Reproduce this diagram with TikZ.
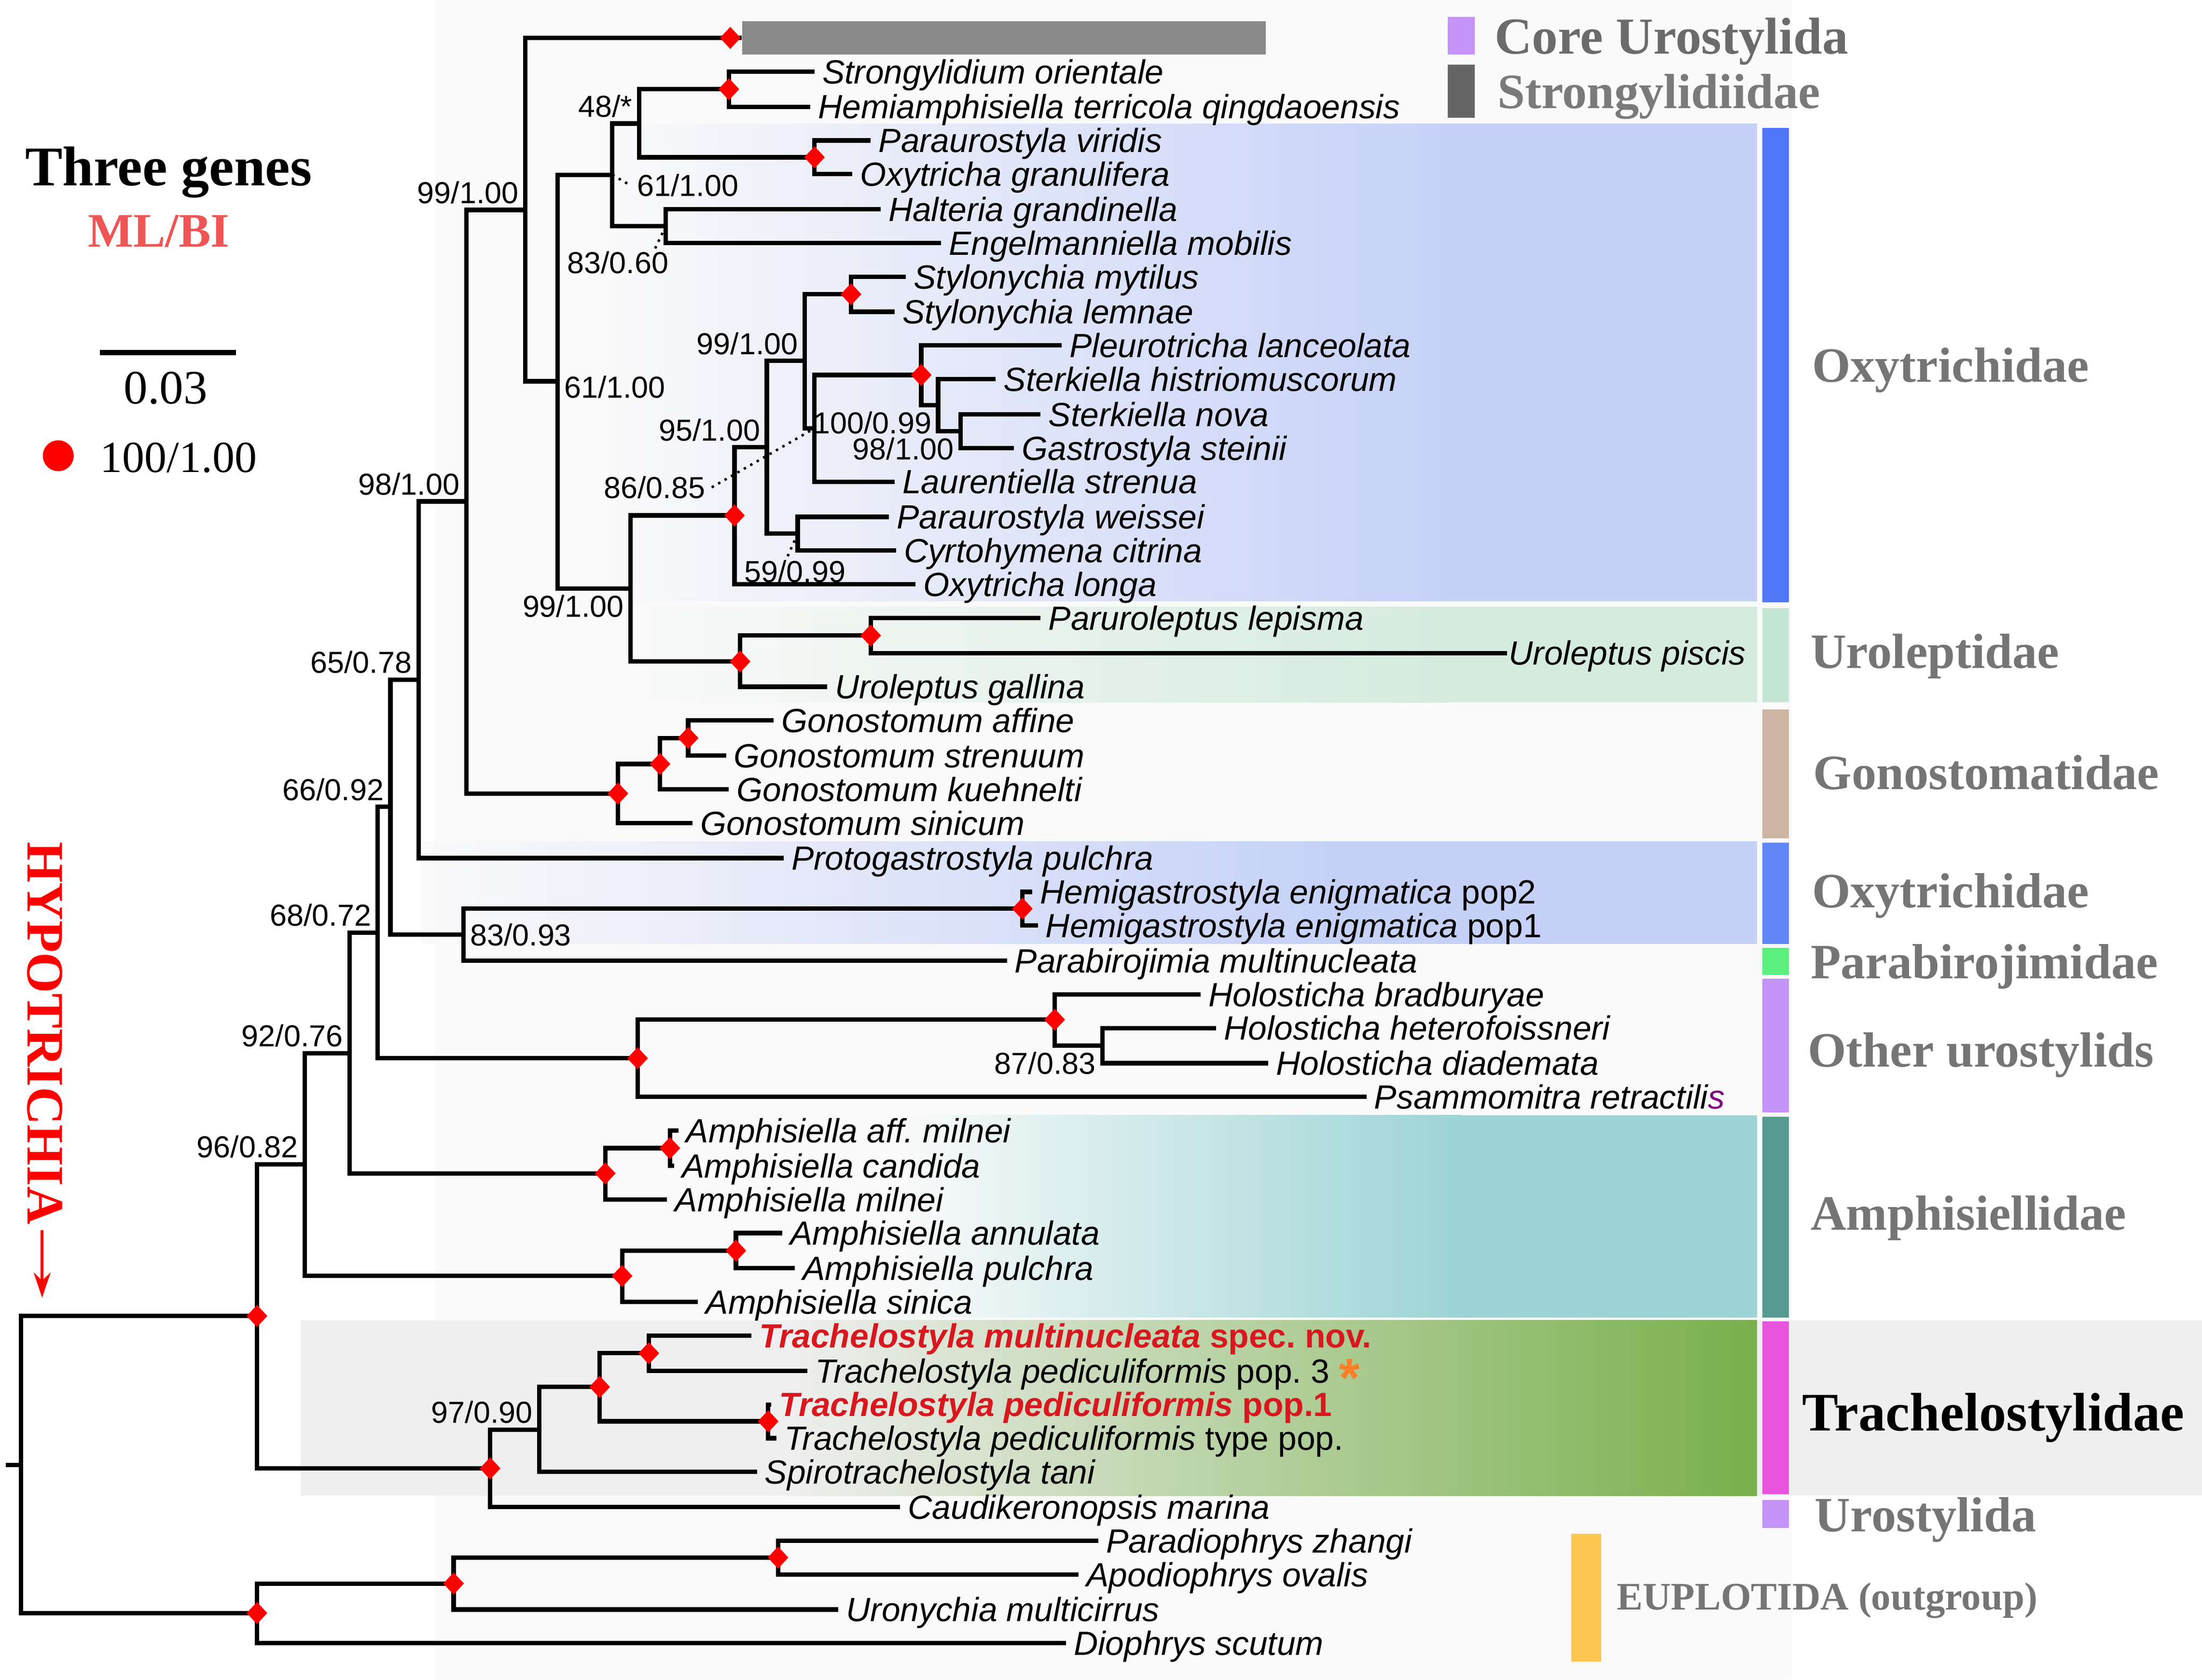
\documentclass[tikz,border=0pt]{standalone}
\usepackage{fontspec}
\setmainfont{Liberation Serif}
\setsansfont{Liberation Sans}
\usetikzlibrary{shapes.geometric,arrows.meta}

\definecolor{bgpanel}{HTML}{FAFAFA}
\definecolor{oxyblue}{HTML}{C6D1F8}
\definecolor{urogreen}{HTML}{D5EBDE}
\definecolor{amphteal}{HTML}{9CD4D5}
\definecolor{trgray}{HTML}{EFEFEF}
\definecolor{trgreen}{HTML}{78B04B}
\definecolor{collgray}{HTML}{8A8A8A}
\definecolor{cladegray}{HTML}{757575}
\definecolor{oxybar}{HTML}{4F77F7}
\definecolor{urobar}{HTML}{C6E6D5}
\definecolor{gonobar}{HTML}{CDB4A3}
\definecolor{oxybarb}{HTML}{6086F8}
\definecolor{parabar}{HTML}{5DF07E}
\definecolor{lavbar}{HTML}{C494F8}
\definecolor{amphbar}{HTML}{569A91}
\definecolor{trachbar}{HTML}{E854DC}
\definecolor{eupbar}{HTML}{FDC64E}
\definecolor{strongsq}{HTML}{656565}
\definecolor{newred}{HTML}{D9171F}
\definecolor{mlred}{HTML}{F05555}
\definecolor{astorange}{HTML}{FF7F27}

\begin{document}
\begin{tikzpicture}[x=0.02cm,y=-0.02cm,
    branch/.style={line width=1.8pt},
    lead/.style={dotted,line width=1pt},
    tax/.style={anchor=west,inner sep=3pt,font=\sffamily\itshape\fontsize{13.6}{15}\selectfont,text height=9.7pt,text depth=0pt},
    supp/.style={inner sep=2.5pt,font=\sffamily\fontsize{12.3}{14}\selectfont,text height=8.8pt,text depth=0pt},
    full/.style={diamond,fill=red,inner sep=0pt,minimum width=0.3cm,minimum height=0.32cm},
    clade/.style={anchor=west,inner sep=0pt,text=cladegray,font=\bfseries\fontsize{20}{22}\selectfont,text height=13.2pt,text depth=0pt},
    newsp/.style={text=newred,font=\sffamily\bfseries\itshape\fontsize{13.6}{15}\selectfont}]
    \useasboundingbox (0,0) rectangle (1568,1196);
    \fill[white] (0,0) rectangle (1568,1196);
    \fill[bgpanel] (310,0) rectangle (1276,1196);

    \shade[left color=bgpanel,right color=oxyblue] (430,88) rectangle (1032,428);
    \fill[oxyblue] (1031,88) rectangle (1251,428);
    \shade[left color=bgpanel,right color=urogreen] (440,432) rectangle (1032,500);
    \fill[urogreen] (1031,432) rectangle (1251,500);
    \shade[left color=bgpanel,right color=oxyblue] (300,599) rectangle (951,672);
    \fill[oxyblue] (950,599) rectangle (1251,672);
    \shade[left color=bgpanel,right color=amphteal] (640,794) rectangle (1041,938);
    \fill[amphteal] (1040,794) rectangle (1251,938);
    \fill[trgray] (214,940) rectangle (1568,1065);
    \shade[left color=trgray,right color=trgreen] (560,940) rectangle (1251,1065);

    \fill[oxybar] (1255,91) rectangle (1274,429);
    \fill[urobar] (1255,433) rectangle (1274,500);
    \fill[gonobar] (1255,505) rectangle (1274,597);
    \fill[oxybarb] (1255,600) rectangle (1274,672);
    \fill[parabar] (1255,675) rectangle (1274,694);
    \fill[lavbar] (1255,697) rectangle (1274,792);
    \fill[amphbar] (1255,795) rectangle (1274,938);
    \fill[trachbar] (1255,941) rectangle (1274,1064);
    \fill[lavbar] (1255,1068) rectangle (1274,1088);
    \fill[eupbar] (1119,1092) rectangle (1140,1183);
    \fill[lavbar] (1031,12) rectangle (1050,39);
    \fill[strongsq] (1031,46) rectangle (1050,84);

    \node[clade,text=black!58,font=\bfseries\fontsize{21}{23}\selectfont,text height=13.9pt] (lcore) at (1064,26) {Core Urostylida};
    \node[clade,text=black!52] (lstrong) at (1066,65.5) {Strongylidiidae};
    \node[clade] (coxyA) at (1290,260.5) {Oxytrichidae};
    \node[clade] (curo) at (1289,464) {Uroleptidae};
    \node[clade] (cgono) at (1291,550.5) {Gonostomatidae};
    \node[clade] (coxyB) at (1290,634.5) {Oxytrichidae};
    \node[clade] (cpara) at (1289,685) {Parabirojimidae};
    \node[clade] (cother) at (1287,748) {Other urostylids};
    \node[clade] (camph) at (1289,864) {Amphisiellidae};
    \node[clade,text=black,font=\bfseries\fontsize{22}{24}\selectfont,text height=14.6pt] (ctrach) at (1283,1006) {Trachelostylidae};
    \node[clade] (curost) at (1292,1079) {Urostylida};
    \node[clade,font=\bfseries\fontsize{15.8}{18}\selectfont,text height=10.5pt] (ceup) at (1151,1137) {EUPLOTIDA (outgroup)};

    \node[inner sep=0pt,font=\bfseries\fontsize{22.7}{25}\selectfont,text height=15pt,text depth=0pt] (title) at (120,119) {Three genes};
    \node[inner sep=0pt,text=mlred,font=\bfseries\fontsize{19.5}{22}\selectfont,text height=12.9pt,text depth=0pt] (mlbi) at (113,164.5) {ML/BI};
    \coordinate (sbl) at (71,251);
    \coordinate (sbr) at (168,251);
    \draw[line width=2pt] (sbl) -- (sbr);
    \node[inner sep=0pt,font=\fontsize{19.4}{22}\selectfont,text height=13.1pt,text depth=0pt] (sblab) at (118,276) {0.03};
    \fill[red] (41.5,324.5) circle (0.22cm);
    \node[anchor=west,inner sep=0pt,font=\fontsize{18}{20}\selectfont,text height=12.2pt,text depth=0pt] (leg) at (71,325.5) {100/1.00};

    \node[rotate=-90,inner sep=0pt,text=red,font=\bfseries\fontsize{21.3}{24}\selectfont,text height=14.1pt,text depth=0pt] (hypo) at (32,735.5) {HYPOTRICHIA};
    \coordinate (hyptip) at (30,924);
    \draw[red,line width=1.1pt,-{Stealth[length=0.36cm,width=0.24cm]}] (hypo.east) ++(-2,4) -- (hyptip);

    % tips
    \node[tax] (strori) at (580,51) {Strongylidium orientale};
    \node[tax] (hemter) at (577,76) {Hemiamphisiella terricola qingdaoensis};
    \node[tax] (parvir) at (620,100) {Paraurostyla viridis};
    \node[tax] (oxygra) at (607,124) {Oxytricha granulifera};
    \node[tax] (halgra) at (627,149) {Halteria grandinella};
    \node[tax] (engmob) at (670,173) {Engelmanniella mobilis};
    \node[tax] (stymyt) at (645,197) {Stylonychia mytilus};
    \node[tax] (stylem) at (637,222) {Stylonychia lemnae};
    \node[tax] (plelan) at (756,246) {Pleurotricha lanceolata};
    \node[tax] (sterhis) at (709,270) {Sterkiella histriomuscorum};
    \node[tax] (sternov) at (741,295) {Sterkiella nova};
    \node[tax] (gasste) at (722,319) {Gastrostyla steinii};
    \node[tax] (laustr) at (637,343) {Laurentiella strenua};
    \node[tax] (parwei) at (633,368) {Paraurostyla weissei};
    \node[tax] (cyrcit) at (638,392) {Cyrtohymena citrina};
    \node[tax] (oxylon) at (652,416) {Oxytricha longa};
    \node[tax] (parlep) at (741,440) {Paruroleptus lepisma};
    \node[tax,inner sep=0.6pt] (uropis) at (1073,465) {Uroleptus piscis};
    \node[tax] (urogal) at (589,489) {Uroleptus gallina};
    \node[tax] (gonaff) at (551,513) {Gonostomum affine};
    \node[tax] (gonstr) at (517,538) {Gonostomum strenuum};
    \node[tax] (gonkue) at (519,562) {Gonostomum kuehnelti};
    \node[tax] (gonsin) at (493,586) {Gonostomum sinicum};
    \node[tax] (propul) at (558,611) {Protogastrostyla pulchra};
    \node[tax] (hempa) at (735,635) {Hemigastrostyla enigmatica \upshape pop2};
    \node[tax] (hempb) at (739,659) {Hemigastrostyla enigmatica \upshape pop1};
    \node[tax] (parmul) at (717,684) {Parabirojimia multinucleata};
    \node[tax] (holbra) at (855,708) {Holosticha bradburyae};
    \node[tax] (holhet) at (866,732) {Holosticha heterofoissneri};
    \node[tax] (holdia) at (903,757) {Holosticha diademata};
    \node[tax] (psaret) at (973,781) {Psammomitra retractili{\color{violet}s}};
    \node[tax] (ampaff) at (483,805) {Amphisiella aff.\ milnei};
    \node[tax] (ampcan) at (480,830) {Amphisiella candida};
    \node[tax] (ampmil) at (475,854) {Amphisiella milnei};
    \node[tax] (ampann) at (557,878) {Amphisiella annulata};
    \node[tax] (amppul) at (566,903) {Amphisiella pulchra};
    \node[tax] (ampsin) at (497,927) {Amphisiella sinica};
    \node[tax,newsp] (tramul) at (535,951) {Trachelostyla multinucleata \upshape spec.\ nov.};
    \node[tax] (trapc) at (575,976) {Trachelostyla pediculiformis \upshape pop.\ 3 \raisebox{-5.5pt}{\color{astorange}\bfseries\fontsize{22}{22}\selectfont *}};
    \node[tax,newsp] (trapa) at (549,1000) {Trachelostyla pediculiformis \upshape pop.1};
    \node[tax] (tratyp) at (553,1024) {Trachelostyla pediculiformis \upshape type pop.};
    \node[tax] (spitan) at (539,1048) {Spirotrachelostyla tani};
    \node[tax] (caumar) at (641,1073) {Caudikeronopsis marina};
    \node[tax] (parzha) at (782,1097) {Paradiophrys zhangi};
    \node[tax] (apoova) at (768,1121) {Apodiophrys ovalis};
    \node[tax] (uromul) at (597,1146) {Uronychia multicirrus};
    \node[tax] (diosct) at (759,1170) {Diophrys scutum};
    \node[fill=collgray,anchor=west,inner sep=0pt,minimum width=7.46cm,minimum height=0.48cm] (corebar) at (528,27) {};

    % inner nodes
    \coordinate (nA) at (520,27);
    \coordinate (nStr) at (519,63.5);
    \coordinate (nPar) at (580,112);
    \coordinate (n48) at (455,88);
    \coordinate (n83) at (474,161);
    \coordinate (n61a) at (436,124.5);
    \coordinate (nSty) at (606,209.5);
    \coordinate (nS98) at (684,307);
    \coordinate (nS100) at (668,288.5);
    \coordinate (nSter) at (656,267);
    \coordinate (n100) at (580,305);
    \coordinate (n99) at (573,257);
    \coordinate (n59) at (568,380);
    \coordinate (n95) at (546,318.5);
    \coordinate (nOxy) at (523,367);
    \coordinate (nUro1) at (620,452.5);
    \coordinate (nUro2) at (527,471);
    \coordinate (n99b) at (449,419);
    \coordinate (n61b) at (397,271.5);
    \coordinate (n99c) at (374,149.5);
    \coordinate (nG1) at (490,525.5);
    \coordinate (nG2) at (470,544);
    \coordinate (nG3) at (440,565);
    \coordinate (n98) at (332,357);
    \coordinate (n65) at (298,484);
    \coordinate (nHem) at (728,647);
    \coordinate (n83b) at (330,665.5);
    \coordinate (n66) at (278,574.5);
    \coordinate (n87) at (785,744.5);
    \coordinate (nHol) at (751,726);
    \coordinate (nHol2) at (454,753.5);
    \coordinate (n68) at (269,664);
    \coordinate (nAm1) at (477,817.5);
    \coordinate (nAm2) at (431,835.5);
    \coordinate (nAm3) at (524,890.5);
    \coordinate (nAm4) at (443,908.5);
    \coordinate (n92) at (249,750);
    \coordinate (n96) at (217,829);
    \coordinate (nT1) at (462,963.5);
    \coordinate (nT2) at (547,1012);
    \coordinate (nT3) at (427,987.5);
    \coordinate (n97) at (384,1018);
    \coordinate (nT4) at (349,1045.5);
    \coordinate (nIn) at (183,937);
    \coordinate (nE1) at (554,1109);
    \coordinate (nE2) at (323,1127.5);
    \coordinate (nE3) at (183,1148.5);
    \coordinate (root) at (15,1043);
    \coordinate (stub) at (4,1043);

    % branches
    \draw[branch] (nA) -- (corebar.west);
    \draw[branch] (nStr) |- (strori.west);
    \draw[branch] (nStr) |- (hemter.west);
    \draw[branch] (nPar) |- (parvir.west);
    \draw[branch] (nPar) |- (oxygra.west);
    \draw[branch] (n48) |- (nStr);
    \draw[branch] (n48) |- (nPar);
    \draw[branch] (n83) |- (halgra.west);
    \draw[branch] (n83) |- (engmob.west);
    \draw[branch] (n61a) |- (n48);
    \draw[branch] (n61a) |- (n83);
    \draw[branch] (nSty) |- (stymyt.west);
    \draw[branch] (nSty) |- (stylem.west);
    \draw[branch] (nS98) |- (sternov.west);
    \draw[branch] (nS98) |- (gasste.west);
    \draw[branch] (nS100) |- (sterhis.west);
    \draw[branch] (nS100) |- (nS98);
    \draw[branch] (nSter) |- (plelan.west);
    \draw[branch] (nSter) |- (nS100);
    \draw[branch] (n100) |- (nSter);
    \draw[branch] (n100) |- (laustr.west);
    \draw[branch] (n99) |- (nSty);
    \draw[branch] (n99) |- (n100);
    \draw[branch] (n59) |- (parwei.west);
    \draw[branch] (n59) |- (cyrcit.west);
    \draw[branch] (n95) |- (n99);
    \draw[branch] (n95) |- (n59);
    \draw[branch] (nOxy) |- (n95);
    \draw[branch] (nOxy) |- (oxylon.west);
    \draw[branch] (nUro1) |- (parlep.west);
    \draw[branch] (nUro1) |- (uropis.west);
    \draw[branch] (nUro2) |- (nUro1);
    \draw[branch] (nUro2) |- (urogal.west);
    \draw[branch] (n99b) |- (nOxy);
    \draw[branch] (n99b) |- (nUro2);
    \draw[branch] (n61b) |- (n61a);
    \draw[branch] (n61b) |- (n99b);
    \draw[branch] (n99c) |- (nA);
    \draw[branch] (n99c) |- (n61b);
    \draw[branch] (nG1) |- (gonaff.west);
    \draw[branch] (nG1) |- (gonstr.west);
    \draw[branch] (nG2) |- (nG1);
    \draw[branch] (nG2) |- (gonkue.west);
    \draw[branch] (nG3) |- (nG2);
    \draw[branch] (nG3) |- (gonsin.west);
    \draw[branch] (n98) |- (n99c);
    \draw[branch] (n98) |- (nG3);
    \draw[branch] (n65) |- (n98);
    \draw[branch] (n65) |- (propul.west);
    \draw[branch] (nHem) |- (hempa.west);
    \draw[branch] (nHem) |- (hempb.west);
    \draw[branch] (n83b) |- (nHem);
    \draw[branch] (n83b) |- (parmul.west);
    \draw[branch] (n66) |- (n65);
    \draw[branch] (n66) |- (n83b);
    \draw[branch] (n87) |- (holhet.west);
    \draw[branch] (n87) |- (holdia.west);
    \draw[branch] (nHol) |- (holbra.west);
    \draw[branch] (nHol) |- (n87);
    \draw[branch] (nHol2) |- (nHol);
    \draw[branch] (nHol2) |- (psaret.west);
    \draw[branch] (n68) |- (n66);
    \draw[branch] (n68) |- (nHol2);
    \draw[branch] (nAm1) |- (ampaff.west);
    \draw[branch] (nAm1) |- (ampcan.west);
    \draw[branch] (nAm2) |- (nAm1);
    \draw[branch] (nAm2) |- (ampmil.west);
    \draw[branch] (nAm3) |- (ampann.west);
    \draw[branch] (nAm3) |- (amppul.west);
    \draw[branch] (nAm4) |- (nAm3);
    \draw[branch] (nAm4) |- (ampsin.west);
    \draw[branch] (n92) |- (n68);
    \draw[branch] (n92) |- (nAm2);
    \draw[branch] (n96) |- (n92);
    \draw[branch] (n96) |- (nAm4);
    \draw[branch] (nT1) |- (tramul.west);
    \draw[branch] (nT1) |- (trapc.west);
    \draw[branch] (nT2) |- (trapa.west);
    \draw[branch] (nT2) |- (tratyp.west);
    \draw[branch] (nT3) |- (nT1);
    \draw[branch] (nT3) |- (nT2);
    \draw[branch] (n97) |- (nT3);
    \draw[branch] (n97) |- (spitan.west);
    \draw[branch] (nT4) |- (n97);
    \draw[branch] (nT4) |- (caumar.west);
    \draw[branch] (nIn) |- (n96);
    \draw[branch] (nIn) |- (nT4);
    \draw[branch] (nE1) |- (parzha.west);
    \draw[branch] (nE1) |- (apoova.west);
    \draw[branch] (nE2) |- (nE1);
    \draw[branch] (nE2) |- (uromul.west);
    \draw[branch] (nE3) |- (nE2);
    \draw[branch] (nE3) |- (diosct.west);
    \draw[branch] (root) |- (nIn);
    \draw[branch] (root) |- (nE3);
    \draw[branch] (stub) -- (root);

    \foreach \n in {nA,nStr,nPar,nSty,nSter,nOxy,nUro1,nUro2,nG1,nG2,nG3,nHem,nHol,nHol2,nAm1,nAm2,nAm3,nAm4,nT1,nT2,nT3,nT4,nIn,nE1,nE2,nE3}
        \node[full] (d\n) at (\n) {};

    % support values
    \node[supp,above left] (s48) at (n48) {48/*};
    \node[supp,anchor=west] (s61a) at (449,132) {61/1.00};
    \draw[lead] (n61a) -- (s61a.west);
    \node[supp] (s83) at (440,187) {83/0.60};
    \coordinate (d83) at (466,178);
    \draw[lead] (n83) -- (d83);
    \node[supp,above left] (s99c) at (n99c) {99/1.00};
    \node[supp,right,yshift=-0.08cm] (s61b) at (n61b) {61/1.00};
    \node[supp,above left] (s99) at (n99) {99/1.00};
    \node[supp,above left] (s95) at (n95) {95/1.00};
    \node[supp,below left] (sS100) at (nS100) {100/0.99};
    \node[supp,below left] (sS98) at (nS98) {98/1.00};
    \node[supp] (s86) at (466,347) {86/0.85};
    \draw[lead] (s86.east) -- (n100);
    \node[supp] (s59) at (566,407) {59/0.99};
    \coordinate (d59) at (560,398);
    \draw[lead] (n59) -- (d59);
    \node[supp,below left] (s99b) at (n99b) {99/1.00};
    \node[supp,above left] (s98) at (n98) {98/1.00};
    \node[supp,above left] (s65) at (n65) {65/0.78};
    \node[supp,above left] (s66) at (n66) {66/0.92};
    \node[supp,right] (s83b) at (n83b) {83/0.93};
    \node[supp,above left] (s68) at (n68) {68/0.72};
    \node[supp,below left] (s87) at (n87) {87/0.83};
    \node[supp,above left] (s92) at (n92) {92/0.76};
    \node[supp,above left] (s96) at (n96) {96/0.82};
    \node[supp,above left] (s97) at (n97) {97/0.90};
\end{tikzpicture}
\end{document}
